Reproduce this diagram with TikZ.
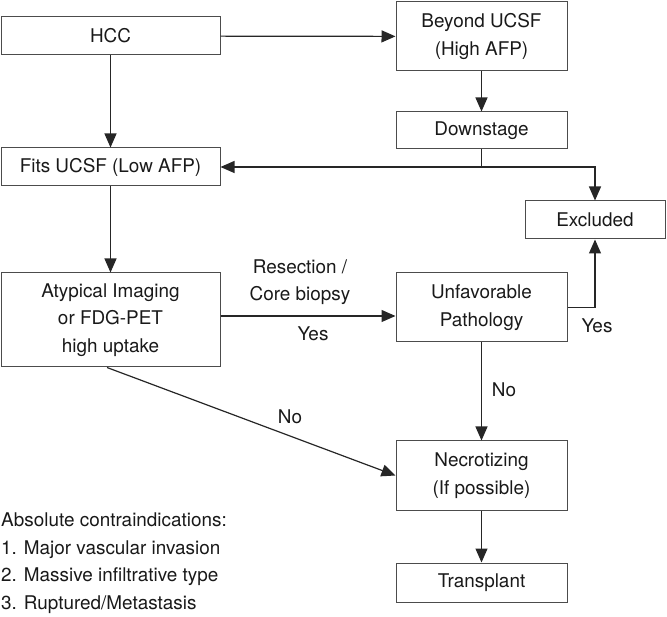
\documentclass[tikz,border=0pt]{standalone}
\usepackage{fontspec}
\setmainfont{TeX Gyre Heros}
\usetikzlibrary{arrows.meta}

\begin{document}
\begin{tikzpicture}[x=1pt, y=-1pt,
	txt/.style={font=\fontsize{18.9}{27.5}\selectfont, text=black!90, align=center},
	box/.style={txt, draw=black!70, line width=1pt, inner sep=0pt, minimum height=38pt},
	arr/.style={draw=black!85, line width=1.2pt, -{Triangle[length=14pt,width=12pt]}}]
	\def\wl{219pt};
	\def\wr{171pt};
	\useasboundingbox (0,0) rectangle (667,617);
	\node[box, minimum width=\wl] (hcc) at (110.5,36) {HCC};
	\node[box, minimum width=\wr, minimum height=69pt] (beyond) at (481.5,36.5) {Beyond UCSF\\(High AFP)};
	\node[box, minimum width=\wr, minimum height=37pt] (down) at (481.5,130.5) {Downstage};
	\node[box, minimum width=\wl] (fits) at (110.5,167) {Fits UCSF (Low AFP)};
	\node[box, minimum width=140pt] (excl) at (595,220) {Excluded};
	\node[box, minimum width=\wl, minimum height=94pt] (atyp) at (110.5,320) {Atypical Imaging\\or FDG-PET\\high uptake};
	\node[box, minimum width=\wr, minimum height=69pt] (unfav) at (481.5,307.5) {Unfavorable\\Pathology};
	\node[box, minimum width=\wr, minimum height=69pt] (necro) at (481.5,475.5) {Necrotizing\\(If possible)};
	\node[box, minimum width=\wr, minimum height=39pt] (trans) at (481.5,582.5) {Transplant};
	\coordinate (split) at (down.south |- fits.east);
	\draw[arr] (hcc) -- (beyond);
	\draw[arr] (hcc) -- (fits);
	\draw[arr] (beyond) -- (down);
	\draw[arr] (down.south) -- (split) -- (fits.east);
	\draw[arr] (split) -| (excl.north);
	\draw[arr] (fits) -- (atyp);
	\draw[arr] ([yshift=4pt]atyp.east) -- ([yshift=4pt]atyp.east -| unfav.west);
	\draw[arr] (unfav.east) -| (excl.south);
	\draw[arr] (unfav) -- (necro);
	\draw[arr] ([xshift=-3.5pt]atyp.south) -- (necro.west);
	\draw[arr] (necro) -- (trans);
	\node[txt] (resec) at (300,282) {Resection /\\Core biopsy};
	\node[txt] (yes1) at (313,334) {Yes};
	\node[txt] (yes2) at (597,326) {Yes};
	\node[txt] (no1) at (504,390) {No};
	\node[txt] (no2) at (290,417) {No};
	\node[txt, align=left, anchor=base west, inner sep=0pt] (contra) at (1,609.3) {Absolute contraindications:\\1. Major vascular invasion\\2. Massive infiltrative type\\3. Ruptured/Metastasis};
\end{tikzpicture}
\end{document}
